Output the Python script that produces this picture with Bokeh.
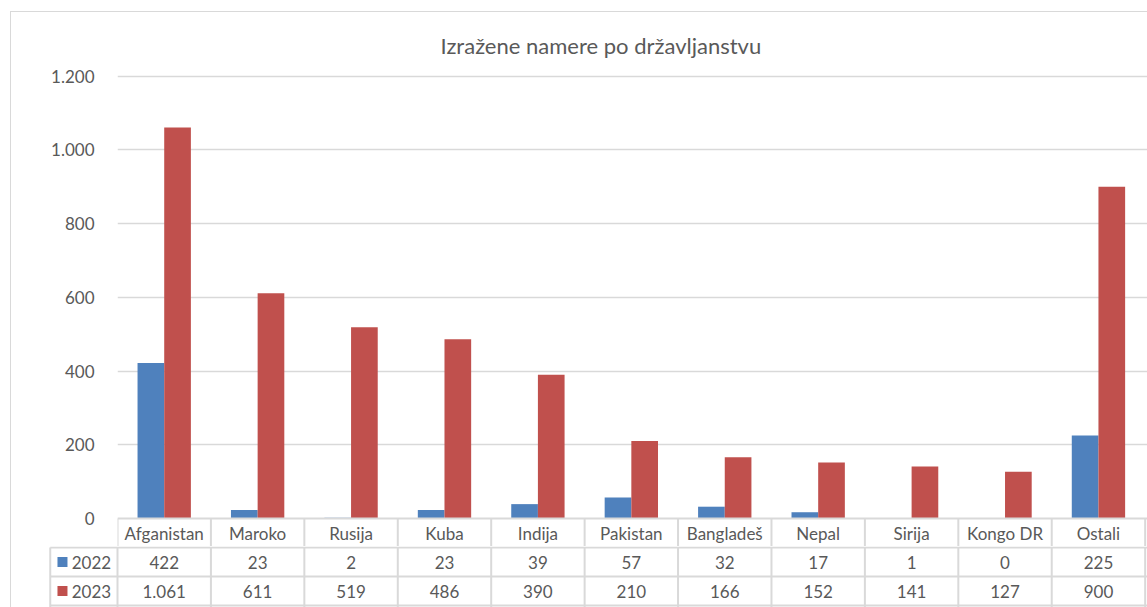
from bokeh.plotting import figure
from bokeh.models import Range1d, FixedTicker
from bokeh.layouts import column, row
from bokeh.embed import file_html
from bokeh.resources import INLINE
from bokeh.core.properties import value

# ---------------- data ----------------
categories = ["Afganistan", "Maroko", "Rusija", "Kuba", "Indija", "Pakistan",
              "Bangladeš", "Nepal", "Sirija", "Kongo DR", "Ostali"]
series_names = ["2022", "2023"]
values_2022 = [422, 23, 2, 23, 39, 57, 32, 17, 1, 0, 225]
values_2023 = [1061, 611, 519, 486, 390, 210, 166, 152, 141, 127, 900]
y_ticks = [0, 200, 400, 600, 800, 1000, 1200]
y_tick_labels = ["0", "200", "400", "600", "800", "1.000", "1.200"]
title_text = "Izražene namere po državljanstvu"

# ---------------- style ----------------
FONT = "Lato"
TXT = "#595959"
LINE = "#d9d9d9"
BLUE = "#4f81bd"
RED = "#c0504d"
BW = 0.2855
FS = "17px"


def fmt(v):
    return f"{v:,}".replace(",", ".")


n = len(categories)
centers = [i + 0.5 for i in range(n)]
edges = list(range(n + 1))

# ---------------- top: bars + header row ----------------
top = figure(frame_width=1030, frame_height=484,
             x_range=Range1d(0, 11.025), y_range=Range1d(-75.96, 1237.1),
             output_backend="svg", toolbar_location=None,
             x_axis_location=None,
             min_border_left=106, min_border_right=0,
             min_border_top=50, min_border_bottom=0)
top.outline_line_color = None
top.background_fill_color = "white"
top.border_fill_color = "white"

top.title.text = title_text
top.title.align = "left"
top.title.text_font = FONT
top.title.text_font_size = "22px"
top.title.text_font_style = "normal"
top.title.text_color = TXT
top.title.offset = 323
top.title.standoff = 8

ax = top.yaxis[0]
ax.ticker = FixedTicker(ticks=y_ticks)
ax.major_label_overrides = dict(zip(y_ticks, y_tick_labels))
ax.axis_line_color = None
ax.major_tick_line_color = None
ax.minor_tick_line_color = None
ax.major_label_text_font = FONT
ax.major_label_text_font_size = FS
ax.major_label_text_color = TXT
ax.major_label_standoff = 17

top.xgrid.visible = False
top.ygrid.ticker = FixedTicker(ticks=y_ticks[1:])
top.ygrid.grid_line_color = LINE
top.ygrid.grid_line_width = 1.3

top.vbar(x=[c - BW / 2 for c in centers], top=values_2022, bottom=0, width=BW,
         fill_color=BLUE, line_color=None)
top.vbar(x=[c + BW / 2 for c in centers], top=values_2023, bottom=0, width=BW,
         fill_color=RED, line_color=None)

# table header lines
top.segment(x0=[0], y0=[0], x1=[11.2], y1=[0], line_color=LINE, line_width=2)
top.segment(x0=edges, y0=[0] * len(edges), x1=edges, y1=[-80] * len(edges),
            line_color=LINE, line_width=2)
top.text(x=centers, y=[-40.7] * n, text=categories,
         text_align="center", text_baseline="middle",
         text_font=value(FONT), text_font_size=FS, text_color=TXT)

# ---------------- bottom: data table rows ----------------
bot = figure(frame_width=1099, frame_height=61,
             x_range=Range1d(-0.7386, 11.025), y_range=Range1d(-60, 1),
             output_backend="svg", toolbar_location=None,
             x_axis_location=None, y_axis_location=None,
             min_border_left=37, min_border_right=0,
             min_border_top=0, min_border_bottom=0)
bot.outline_line_color = None
bot.xgrid.visible = False
bot.ygrid.visible = False
bot.background_fill_color = "white"
bot.border_fill_color = "white"

LX = -0.72
row_y = [-14.5, -43.5]
bot.segment(x0=[LX] * 3, y0=[0, -29, -58], x1=[11.2] * 3, y1=[0, -29, -58],
            line_color=LINE, line_width=2)
vx = [LX] + edges
bot.segment(x0=vx, y0=[0] * len(vx), x1=vx, y1=[-60] * len(vx),
            line_color=LINE, line_width=2)

bot.scatter(x=[-0.589, -0.589], y=row_y, marker="square", size=10,
            fill_color=[BLUE, RED], line_color=None)
bot.text(x=[-0.49, -0.49], y=row_y, text=series_names,
         text_align="left", text_baseline="middle",
         text_font=value(FONT), text_font_size=FS, text_color=TXT)

for vals, yy in zip([values_2022, values_2023], row_y):
    bot.text(x=centers, y=[yy] * n, text=[fmt(v) for v in vals],
             text_align="center", text_baseline="middle",
             text_font=value(FONT), text_font_size=FS, text_color=TXT)

layout = column(row(top), row(bot), spacing=0, margin=(11, 0, 0, 10),
                styles={"border-top": "1px solid #d9d9d9",
                        "border-left": "1px solid #d9d9d9"})

open("out.html", "w").write(file_html(layout, INLINE))
